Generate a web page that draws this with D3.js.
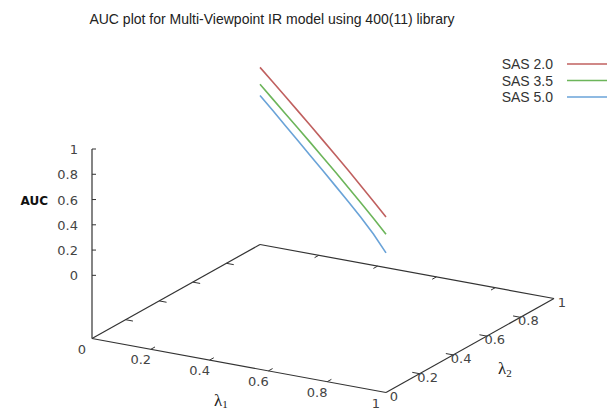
<!DOCTYPE html>
<html><head><meta charset="utf-8">
<script src="https://cdn.jsdelivr.net/npm/d3@7/dist/d3.min.js"></script>
<style>body{margin:0;background:#fff}svg{display:block}</style>
</head><body>
<svg id="c" width="613" height="412"></svg>
<script>
const lambda1 = [0,0.1,0.2,0.3,0.4,0.5,0.6,0.7,0.8,0.9,1];
const lambda2 = [1,0.9,0.8,0.7,0.6,0.5,0.4,0.3,0.2,0.1,0];
const sas20 = [0.902,0.905,0.907,0.909,0.910,0.910,0.909,0.907,0.903,0.897,0.890];
const sas35 = [0.768,0.770,0.772,0.774,0.775,0.775,0.774,0.772,0.768,0.762,0.752];
const sas50 = [0.680,0.679,0.677,0.675,0.672,0.669,0.665,0.660,0.652,0.637,0.605];
const seriesNames = ["SAS 2.0","SAS 3.5","SAS 5.0"];
const xTicks = [0,0.2,0.4,0.6,0.8,1];
const xTickLabels = ["0","0.2","0.4","0.6","0.8","1"];
const yTicks = [0,0.2,0.4,0.6,0.8,1];
const yTickLabels = ["0","0.2","0.4","0.6","0.8","1"];
const zTicks = [0,0.2,0.4,0.6,0.8,1];
const zTickLabels = ["0","0.2","0.4","0.6","0.8","1"];
const title = "AUC plot for Multi-Viewpoint IR model using 400(11) library";
const colors = ["#c0605f","#6cb55a","#6aa3d8"];

const svg = d3.select("#c");
const O = [92, 338.5];
// projection scales
const l1x = d3.scaleLinear().domain([0,1]).range([0,294]);
const l1y = d3.scaleLinear().domain([0,1]).range([0,54]);
const l2x = d3.scaleLinear().domain([0,1]).range([0,168]);
const l2y = d3.scaleLinear().domain([0,1]).range([0,-94]);
const zs  = d3.scaleLinear().domain([-0.5,1]).range([0,-189.5]);
function P(a,b,z){ return [O[0]+l1x(a)+l2x(b), O[1]+l1y(a)+l2y(b)+zs(z)]; }

const axisCol = "#333";
const zb = -0.5;
// base plane edges
const edges = [[[0,0],[1,0]],[[1,0],[1,1]],[[1,1],[0,1]],[[0,1],[0,0]]];
edges.forEach(e=>{
  const p=P(e[0][0],e[0][1],zb), q=P(e[1][0],e[1][1],zb);
  svg.append("line").attr("x1",p[0]).attr("y1",p[1]).attr("x2",q[0]).attr("y2",q[1])
    .attr("stroke",axisCol).attr("stroke-width",1.2);
});
// z axis
{
  const p=P(0,0,zb), q=P(0,0,1);
  svg.append("line").attr("x1",p[0]).attr("y1",p[1]).attr("x2",q[0]).attr("y2",q[1])
    .attr("stroke",axisCol).attr("stroke-width",1.2);
}
const tk = 0.025;
// lambda1 ticks (front and back)
xTicks.forEach((t,i)=>{
  if(t>0 && t<1){
    let p=P(t,0,zb), q=P(t,tk,zb);
    svg.append("line").attr("x1",p[0]).attr("y1",p[1]).attr("x2",q[0]).attr("y2",q[1]).attr("stroke",axisCol).attr("stroke-width",1);
    p=P(t,1,zb); q=P(t,1-tk,zb);
    svg.append("line").attr("x1",p[0]).attr("y1",p[1]).attr("x2",q[0]).attr("y2",q[1]).attr("stroke",axisCol).attr("stroke-width",1);
  }
  const p=P(t,0,zb);
  svg.append("text").attr("x",p[0]-10).attr("y",p[1]+15).attr("text-anchor","middle")
    .attr("font-family","DejaVu Sans").attr("font-size",13).attr("fill","#444").text(xTickLabels[i]);
});
// lambda2 ticks
yTicks.forEach((t,i)=>{
  if(t>0 && t<1){
    let p=P(1,t,zb), q=P(1-tk,t,zb);
    svg.append("line").attr("x1",p[0]).attr("y1",p[1]).attr("x2",q[0]).attr("y2",q[1]).attr("stroke",axisCol).attr("stroke-width",1);
    p=P(0,t,zb); q=P(tk,t,zb);
    svg.append("line").attr("x1",p[0]).attr("y1",p[1]).attr("x2",q[0]).attr("y2",q[1]).attr("stroke",axisCol).attr("stroke-width",1);
  }
  const p=P(1,t,zb);
  svg.append("text").attr("x",p[0]+8).attr("y",p[1]+8).attr("text-anchor","middle")
    .attr("font-family","DejaVu Sans").attr("font-size",13).attr("fill","#444").text(yTickLabels[i]);
});
// z ticks
zTicks.forEach((t,i)=>{
  const p=P(0,0,t);
  svg.append("line").attr("x1",p[0]).attr("y1",p[1]).attr("x2",p[0]+4).attr("y2",p[1]).attr("stroke",axisCol).attr("stroke-width",1);
  svg.append("text").attr("x",p[0]-14).attr("y",p[1]+5).attr("text-anchor","end")
    .attr("font-family","DejaVu Sans").attr("font-size",13).attr("fill","#444").text(zTickLabels[i]);
});
// axis labels
svg.append("text").attr("x",48).attr("y",205).attr("text-anchor","end")
  .attr("font-family","DejaVu Sans").attr("font-weight","bold").attr("font-size",12).attr("fill","#111").text("AUC");
const l1lab = svg.append("text").attr("x",214).attr("y",406).attr("font-family","Liberation Serif").attr("font-size",17).attr("fill","#222");
l1lab.append("tspan").text("λ");
l1lab.append("tspan").attr("font-size",11).attr("dy",2).text("1");
const l2lab = svg.append("text").attr("x",498).attr("y",374).attr("font-family","Liberation Serif").attr("font-size",17).attr("fill","#222");
l2lab.append("tspan").text("λ");
l2lab.append("tspan").attr("font-size",11).attr("dy",3).text("2");
// title
svg.append("text").attr("x",272).attr("y",24).attr("text-anchor","middle")
  .attr("font-family","Liberation Sans").attr("font-size",14).attr("fill","#222").text(title);
// series
const line = d3.line().x(d=>P(d[0],d[1],d[2])[0]).y(d=>P(d[0],d[1],d[2])[1]);
[sas20,sas35,sas50].forEach((s,k)=>{
  const pts = lambda1.map((a,i)=>[a,lambda2[i],s[i]]);
  svg.append("path").attr("d",line(pts)).attr("fill","none").attr("stroke",colors[k]).attr("stroke-width",1.6);
  const y = 64 + k*16.5;
  svg.append("text").attr("x",553).attr("y",y+5).attr("text-anchor","end")
    .attr("font-family","Liberation Sans").attr("font-size",14).attr("fill","#333").text(seriesNames[k]);
  svg.append("line").attr("x1",567).attr("x2",607).attr("y1",y).attr("y2",y).attr("stroke",colors[k]).attr("stroke-width",1.6);
});
</script>
</body></html>
